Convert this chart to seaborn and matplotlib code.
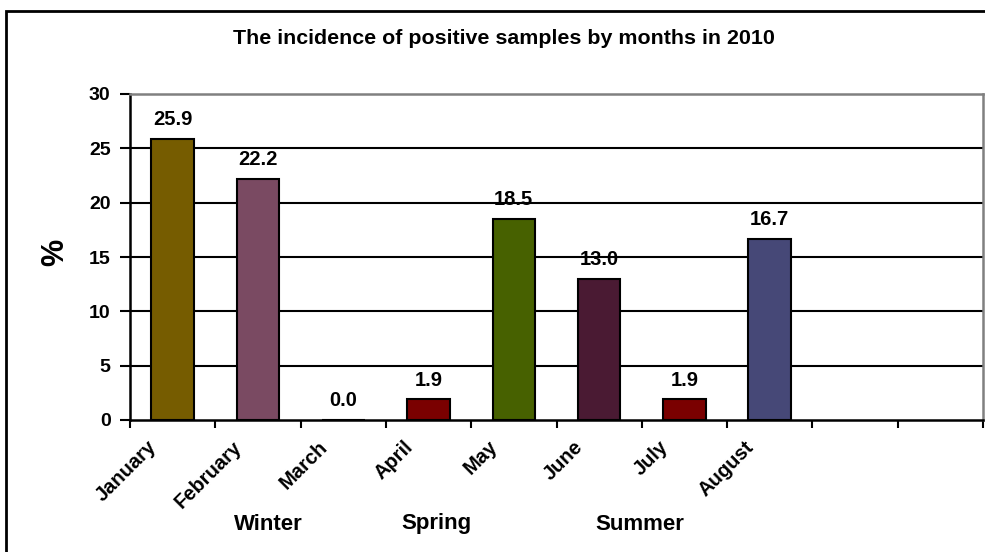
import matplotlib
matplotlib.use("Agg")
import matplotlib.pyplot as plt
from matplotlib.patches import Rectangle
import numpy as np
import pandas as pd
import seaborn as sns

# Monthly incidence of positive samples (%)
months = ["January", "February", "March", "April", "May", "June", "July", "August"]
incidence = [25.9, 22.2, 0.0, 1.9, 18.5, 13.0, 1.9, 16.7]
bar_colors = ["#765C00", "#7A4A62", "#7A0000", "#7A0000", "#476100", "#4A1A33", "#7A0000", "#464877"]
# two trailing empty category slots on the axis
slots = months + ["slot9", "slot10"]
seasons = ["Winter", "Spring", "Summer"]
season_pos = [1.12, 3.09, 5.48]   # category-axis positions of the season captions
y_ticks = [0, 5, 10, 15, 20, 25, 30]

sns.set_theme(style="white")
plt.rcParams["font.family"] = ["Liberation Sans", "DejaVu Sans"]
plt.rcParams["font.weight"] = "bold"
for key in ["text.color", "axes.labelcolor", "xtick.color", "ytick.color"]:
    plt.rcParams[key] = "black"

W, H = 985, 552
fig = plt.figure(figsize=(W / 100, H / 100), dpi=100)
fig.patch.set_facecolor("white")

ax = fig.add_axes([130 / W, 1 - 420 / H, (983 - 130) / W, (420 - 94) / H])

df = pd.DataFrame({"month": months, "value": incidence})
sns.barplot(data=df, x="month", y="value", hue="month", order=slots,
            hue_order=months, palette=bar_colors, legend=False,
            width=0.5, edgecolor="black", linewidth=1.5, saturation=1,
            ax=ax)

# value labels
for cont in ax.containers:
    ax.bar_label(cont, fmt="%.1f", padding=7, fontsize=14.5, fontweight="bold")

ax.set_xlim(-0.5, len(slots) - 0.5)
ax.set_ylim(0, 30)
ax.set_yticks(y_ticks)
ax.set_yticklabels([str(t) for t in y_ticks], fontsize=14, fontweight="bold")

# category boundaries carry the ticks
ax.set_xticks(np.arange(-0.5, len(slots), 1.0))
ax.set_xticklabels([])
ax.tick_params(axis="x", which="major", direction="out", length=6, width=1.5,
               color="black", bottom=True)
ax.tick_params(axis="y", direction="out", length=7, width=1.5, color="black",
               left=True, pad=7)

# slanted month names, ending just left of each category centre
for i, name in enumerate(months):
    ax.annotate(name, xy=(i, 0), xycoords=("data", "axes fraction"),
                xytext=(-19, -24), textcoords="offset pixels",
                rotation=45, rotation_mode="anchor", ha="right", va="center",
                fontsize=14.5, fontweight="bold")

ax.set_xlabel("")
ax.set_ylabel("")

# horizontal gridlines
for v in y_ticks[1:-1]:
    ax.axhline(v, color="black", lw=1.5, zorder=0)

for side in ["left", "bottom"]:
    ax.spines[side].set_color("black")
    ax.spines[side].set_linewidth(1.8)
for side in ["top", "right"]:
    ax.spines[side].set_color("#808080")
    ax.spines[side].set_linewidth(1.8)

# season captions below the month labels
for name, pos in zip(seasons, season_pos):
    ax.annotate(name, xy=(pos, 0), xycoords=("data", "axes fraction"),
                xytext=(0, -104), textcoords="offset pixels",
                ha="center", va="center", fontsize=16, fontweight="bold")

fig.text(504 / W, 1 - 39 / H, "The incidence of positive samples by months in 2010",
         ha="center", va="center", fontsize=15.4, fontweight="bold")
fig.text(55 / W, 1 - 252 / H, "%", rotation=90, ha="center", va="center",
         fontsize=22, fontweight="bold")

# outer chart frame
fig.add_artist(Rectangle((6 / W, -0.1), 1.2, 1.1 - 11 / H, transform=fig.transFigure,
                         fill=False, edgecolor="black", lw=2))

fig.savefig("out.png", dpi=100, facecolor="white")
